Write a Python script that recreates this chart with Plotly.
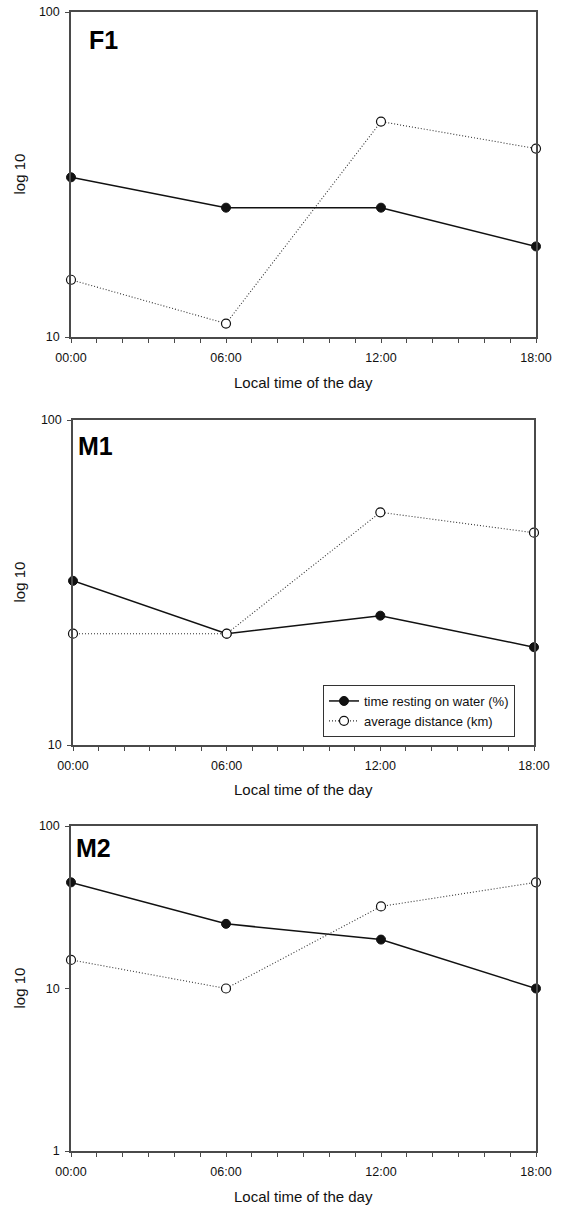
import plotly.graph_objects as go

W, H = 570, 1206

hours = [0, 6, 12, 18]
hour_labels = ["00:00", "06:00", "12:00", "18:00"]

panel_names = ["F1", "M1", "M2"]
rest_F1 = [31, 25, 25, 19]
dist_F1 = [15, 11, 46, 38]
rest_M1 = [32, 22, 25, 20]
dist_M1 = [22, 22, 52, 45]
rest_M2 = [45, 25, 20, 10]
dist_M2 = [15, 10, 32, 45]

rest_name = "time resting on water (%)"
dist_name = "average distance (km)"

# pixel geometry of each panel: (left, right, top, bottom)
panels_px = [(71, 536, 12, 337), (73, 534, 420, 745), (71, 536, 826, 1151)]
y_ranges = [[1, 2], [1, 2], [0, 2]]
y_ticks = [[10, 100], [10, 100], [1, 10, 100]]
label_pos = [(89, 39), (78, 445), (76, 847)]
xtitle_gap = [46, 44, 45]

series = [(rest_F1, dist_F1), (rest_M1, dist_M1), (rest_M2, dist_M2)]

FONT = "Liberation Sans, Arial, sans-serif"
AX = "#4a4a4a"

fig = go.Figure()
layout = dict(
    width=W, height=H,
    margin=dict(l=0, r=0, t=0, b=0, pad=0, autoexpand=False),
    paper_bgcolor="white", plot_bgcolor="white",
    font=dict(family=FONT, size=12, color="#111"),
    showlegend=True,
    legend=dict(
        x=323 / W, y=1 - 685 / H, xanchor="left", yanchor="top",
        bgcolor="white", bordercolor="#333", borderwidth=1,
        font=dict(family=FONT, size=13, color="#111"),
        itemwidth=30, tracegroupgap=0,
    ),
)
annotations = []

for i, (l, r, t, b) in enumerate(panels_px):
    n = "" if i == 0 else str(i + 1)
    xa, ya = "x" + n, "y" + n
    rest, dist = series[i]
    show = (i == 1)
    fig.add_trace(go.Scatter(
        x=hours, y=rest, xaxis=xa, yaxis=ya, name=rest_name, showlegend=show,
        mode="lines+markers", cliponaxis=False,
        line=dict(color="#111", width=1.5),
        marker=dict(symbol="circle", size=9, color="#111",
                    line=dict(color="#111", width=1)),
    ))
    fig.add_trace(go.Scatter(
        x=hours, y=dist, xaxis=xa, yaxis=ya, name=dist_name, showlegend=show,
        mode="lines+markers", cliponaxis=False,
        line=dict(color="#333", width=1.1, dash="1px,2px"),
        marker=dict(symbol="circle", size=9, color="white",
                    line=dict(color="#111", width=1.2)),
    ))
    layout["xaxis" + n] = dict(
        domain=[l / W, r / W], anchor=ya, range=[0, 18], automargin=False,
        tickvals=hours, ticktext=hour_labels, ticklabelstandoff=4,
        ticks="outside", ticklen=4, tickwidth=1, tickcolor=AX,
        minor=dict(dtick=1, tick0=0, ticks="outside", ticklen=4,
                   tickwidth=1, tickcolor=AX),
        showline=True, linecolor=AX, linewidth=1.5, mirror=True,
        showgrid=False, zeroline=False,
        tickfont=dict(family=FONT, size=12.5, color="#111"),
    )
    layout["yaxis" + n] = dict(
        domain=[1 - b / H, 1 - t / H], anchor=xa, type="log", automargin=False,
        range=y_ranges[i], tickvals=y_ticks[i], ticklabelstandoff=3,
        ticktext=[str(v) for v in y_ticks[i]],
        ticks="outside", ticklen=4, tickwidth=1, tickcolor=AX,
        showline=True, linecolor=AX, linewidth=1.5, mirror=True,
        showgrid=False, zeroline=False,
        tickfont=dict(family=FONT, size=12.5, color="#111"),
    )
    # axis titles
    annotations.append(dict(
        text="Local time of the day", xref="paper", yref="paper",
        x=((l + r) / 2) / W, y=1 - (b + xtitle_gap[i]) / H, xanchor="center",
        yanchor="middle", showarrow=False, borderpad=0,
        font=dict(family=FONT, size=15, color="#111"),
    ))
    annotations.append(dict(
        text="log 10", xref="paper", yref="paper", textangle=-90,
        x=19 / W, y=1 - ((t + b) / 2) / H, xanchor="center",
        yanchor="middle", showarrow=False,
        font=dict(family=FONT, size=15, color="#111"),
    ))
    lx, ly = label_pos[i]
    annotations.append(dict(
        text="<b>" + panel_names[i] + "</b>", xref="paper", yref="paper",
        x=(lx - 2) / W, y=1 - (ly + 1) / H, xanchor="left",
        yanchor="middle", showarrow=False,
        font=dict(family=FONT, size=25, color="#000"),
    ))

layout["annotations"] = annotations
fig.update_layout(**layout)
fig.write_html(
    "out.html",
    config={"displayModeBar": False},
    post_script="document.body.style.margin='0';document.body.style.overflow='hidden';",
)
